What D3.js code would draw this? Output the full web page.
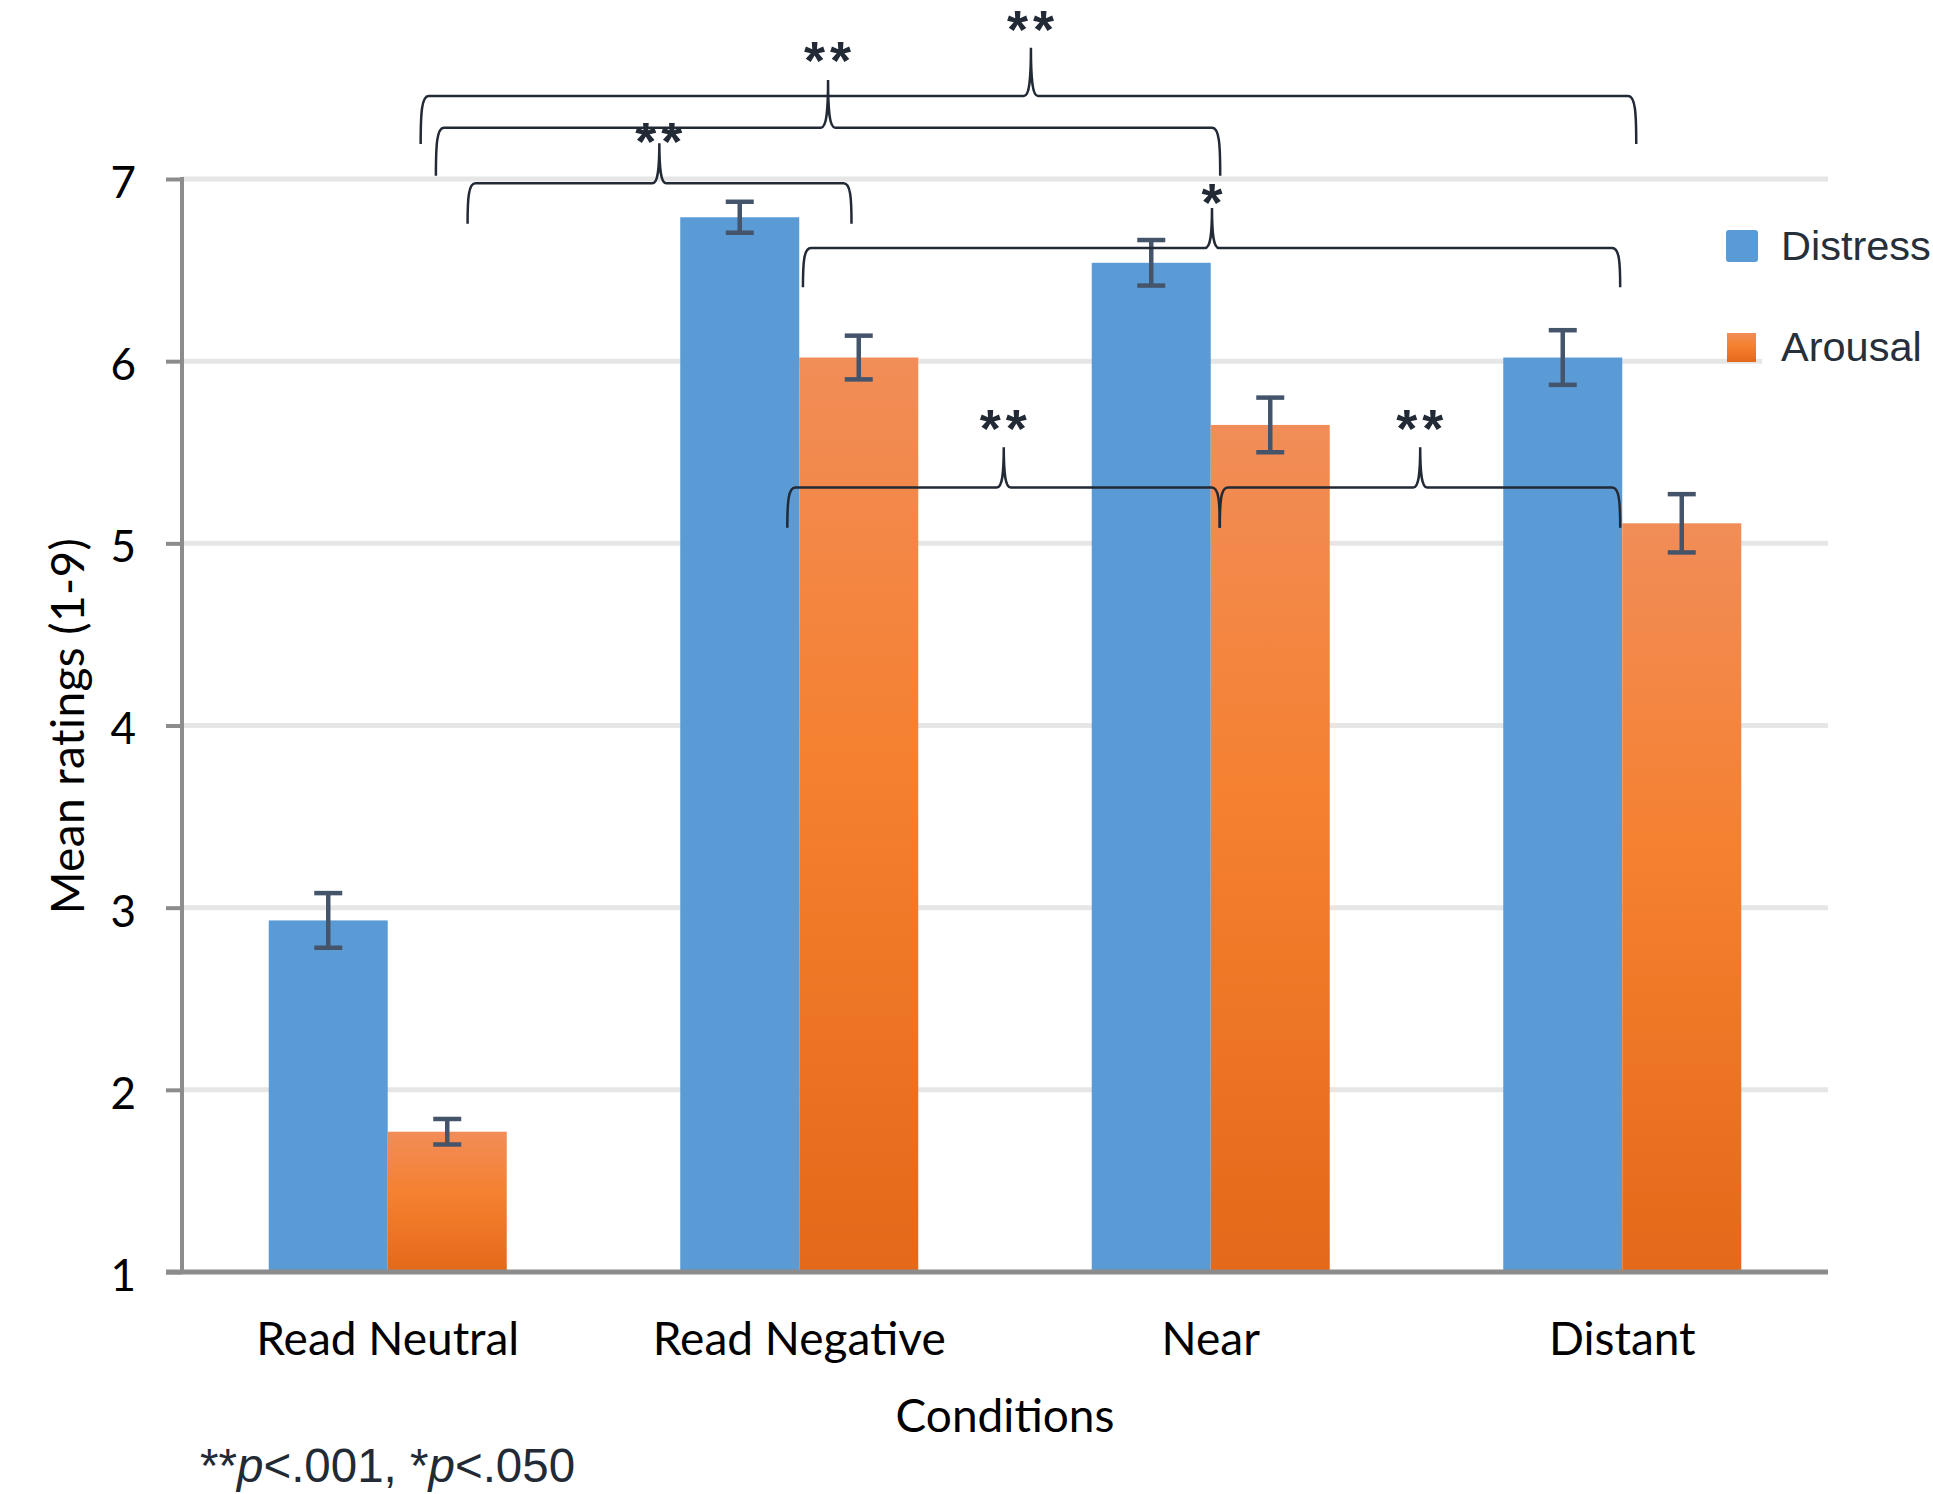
<!DOCTYPE html>
<html>
<head>
<meta charset="utf-8">
<script src="https://cdnjs.cloudflare.com/ajax/libs/d3/7.8.5/d3.min.js"></script>
<style>
  html, body { margin: 0; padding: 0; background: #ffffff; }
  svg { display: block; }
</style>
</head>
<body>
<div id="vis"></div>
<script>
// chart values
const CATEGORIES = ["Read Neutral", "Read Negative", "Near", "Distant"];
const SERIES = ["Distress", "Arousal"];
const DISTRESS_MEANS = [2.93, 6.79, 6.54, 6.02];
const DISTRESS_ERR = [0.15, 0.085, 0.125, 0.15];
const AROUSAL_MEANS = [1.77, 6.02, 5.65, 5.11];
const AROUSAL_ERR = [0.07, 0.12, 0.15, 0.16];
const Y_TICKS = [1, 2, 3, 4, 5, 6, 7];

// significance braces, x in category index units, y in rating units
const BRACE_FROM = [0.08, 0.117, 0.194, 1.009, 0.971, 2.022];
const BRACE_TO = [3.034, 2.023, 1.127, 2.995, 2.022, 2.995];
const BRACE_PEAK = [1.563, 1.070, 0.660, 2.003, 1.497, 2.509];
const BRACE_LEVEL = [7.456, 7.282, 6.976, 6.621, 5.306, 5.306];
const BRACE_END = [7.192, 7.018, 6.755, 6.406, 5.086, 5.086];
const BRACE_TIP = [7.721, 7.543, 7.196, 6.841, 5.527, 5.527];
const BRACE_STARS = ["**", "**", "**", "*", "**", "**"];
const BRACE_STAR_LEVEL = [7.818, 7.648, 7.205, 6.868, 5.630, 5.630];

// frame
const FRAME_WIDTH = 1933;
const FRAME_HEIGHT = 1494;
const PLOT = {left: 182, right: 1828, top: 179, bottom: 1272};

const CALIBRI = "Lato, 'Open Sans', sans-serif";
const ARIAL = "'Liberation Sans', Arial, sans-serif";
const DARK = "#222a35";

const FRAME = d3.select("#vis")
  .append("svg")
    .attr("width", FRAME_WIDTH)
    .attr("height", FRAME_HEIGHT);

// orange bars use a vertical gradient
const grad = FRAME.append("defs").append("linearGradient")
    .attr("id", "orangeGrad")
    .attr("x1", 0).attr("y1", 0).attr("x2", 0).attr("y2", 1);
grad.append("stop").attr("offset", "0%").attr("stop-color", "#f18d58");
grad.append("stop").attr("offset", "45%").attr("stop-color", "#f5802f");
grad.append("stop").attr("offset", "100%").attr("stop-color", "#e4691a");

const COLORS = {Distress: "#5b9bd5", Arousal: "url(#orangeGrad)"};

// scales
const X_SCALE = d3.scaleBand()
  .domain(CATEGORIES)
  .range([PLOT.left, PLOT.right]);

const X_SUB = d3.scaleBand()
  .domain(SERIES)
  .range([0, X_SCALE.bandwidth()])
  .paddingInner(0)
  .paddingOuter(0.729);

const X_IDX = d3.scaleLinear()
  .domain([-0.5, CATEGORIES.length - 0.5])
  .range([PLOT.left, PLOT.right]);

const Y_SCALE = d3.scaleLinear()
  .domain([1, 7])
  .range([PLOT.bottom, PLOT.top]);

// gridlines
FRAME.append("g")
  .selectAll("line")
  .data(Y_TICKS.slice(1))
  .enter()
  .append("line")
    .attr("x1", PLOT.left)
    .attr("x2", PLOT.right)
    .attr("y1", (d) => Y_SCALE(d))
    .attr("y2", (d) => Y_SCALE(d))
    .attr("stroke", "#e6e6e6")
    .attr("stroke-width", 5);

// white legend box sits over the gridlines on the right
FRAME.append("rect")
  .attr("x", 1762).attr("y", 196)
  .attr("width", 200).attr("height", 220)
  .attr("fill", "#ffffff");

// bar table
const rows = CATEGORIES.map((c, i) => ({
  cat: c,
  values: [
    {series: "Distress", mean: DISTRESS_MEANS[i], err: DISTRESS_ERR[i]},
    {series: "Arousal", mean: AROUSAL_MEANS[i], err: AROUSAL_ERR[i]}
  ]
}));

const groups = FRAME.append("g")
  .selectAll("g")
  .data(rows)
  .enter()
  .append("g")
    .attr("transform", (d) => "translate(" + X_SCALE(d.cat) + ",0)");

groups.selectAll("rect")
  .data((d) => d.values)
  .enter()
  .append("rect")
    .attr("x", (d) => X_SUB(d.series))
    .attr("y", (d) => Y_SCALE(d.mean))
    .attr("width", X_SUB.bandwidth())
    .attr("height", (d) => Y_SCALE(1) - Y_SCALE(d.mean))
    .attr("fill", (d) => COLORS[d.series]);

// error bars
const CAP = 14;
const errs = groups.selectAll("g.err")
  .data((d) => d.values)
  .enter()
  .append("g")
    .attr("class", "err")
    .attr("stroke", "#44546a")
    .attr("stroke-width", 4.5);

errs.append("line")
  .attr("x1", (d) => X_SUB(d.series) + X_SUB.bandwidth() / 2)
  .attr("x2", (d) => X_SUB(d.series) + X_SUB.bandwidth() / 2)
  .attr("y1", (d) => Y_SCALE(d.mean + d.err))
  .attr("y2", (d) => Y_SCALE(d.mean - d.err));

errs.selectAll("line.cap")
  .data((d) => [d.mean + d.err, d.mean - d.err].map((v) => ({v: v, s: d.series})))
  .enter()
  .append("line")
    .attr("class", "cap")
    .attr("x1", (d) => X_SUB(d.s) + X_SUB.bandwidth() / 2 - CAP)
    .attr("x2", (d) => X_SUB(d.s) + X_SUB.bandwidth() / 2 + CAP)
    .attr("y1", (d) => Y_SCALE(d.v))
    .attr("y2", (d) => Y_SCALE(d.v));

// y axis
const yAxis = FRAME.append("g")
  .attr("transform", "translate(" + PLOT.left + ",0)")
  .call(d3.axisLeft(Y_SCALE).tickValues(Y_TICKS).tickSize(16).tickPadding(30).tickFormat(d3.format("d")));
yAxis.select(".domain").remove();
yAxis.selectAll(".tick line").attr("stroke", "#8c8c8c").attr("stroke-width", 4);
yAxis.selectAll(".tick text")
  .attr("font-family", CALIBRI)
  .attr("font-size", 44)
  .attr("fill", "#000")
  .attr("dy", "0.42em");
yAxis.append("line")
  .attr("x1", 0).attr("x2", 0)
  .attr("y1", PLOT.top - 2).attr("y2", PLOT.bottom)
  .attr("stroke", "#8c8c8c").attr("stroke-width", 4);

// x axis
const xAxis = FRAME.append("g")
  .attr("transform", "translate(0," + PLOT.bottom + ")")
  .call(d3.axisBottom(X_SCALE).tickSize(0).tickPadding(50));
xAxis.select(".domain").remove();
xAxis.selectAll(".tick text")
  .attr("font-family", CALIBRI)
  .attr("font-size", 46)
  .attr("fill", "#000");
xAxis.append("line")
  .attr("x1", PLOT.left - 16).attr("x2", PLOT.right)
  .attr("y1", 0).attr("y2", 0)
  .attr("stroke", "#8c8c8c").attr("stroke-width", 5);

// axis titles
FRAME.append("text")
  .attr("x", (PLOT.left + PLOT.right) / 2)
  .attr("y", 1432)
  .attr("text-anchor", "middle")
  .attr("font-family", CALIBRI)
  .attr("font-size", 46)
  .text("Conditions");

FRAME.append("text")
  .attr("transform", "translate(84,726) rotate(-90)")
  .attr("text-anchor", "middle")
  .attr("font-family", CALIBRI)
  .attr("font-size", 46)
  .attr("letter-spacing", 0.4)
  .text("Mean ratings (1-9)");

// braces
function bracePath(x0, x1, xp, yh, yb, yt) {
  const r = 8, c = 7;
  return "M" + x0 + "," + yb +
    " C" + x0 + "," + (yh + (yb - yh) * 0.35) + " " + (x0 + 1) + "," + yh + " " + (x0 + r) + "," + yh +
    " L" + (xp - c) + "," + yh +
    " C" + (xp - 1.5) + "," + yh + " " + xp + "," + (yh - (yh - yt) * 0.35) + " " + xp + "," + yt +
    " C" + xp + "," + (yh - (yh - yt) * 0.35) + " " + (xp + 1.5) + "," + yh + " " + (xp + c) + "," + yh +
    " L" + (x1 - r) + "," + yh +
    " C" + (x1 - 1) + "," + yh + " " + x1 + "," + (yh + (yb - yh) * 0.35) + " " + x1 + "," + yb;
}

const braces = BRACE_FROM.map((f, i) => ({
  from: f, to: BRACE_TO[i], peak: BRACE_PEAK[i],
  level: BRACE_LEVEL[i], end: BRACE_END[i], tip: BRACE_TIP[i],
  stars: BRACE_STARS[i], starLevel: BRACE_STAR_LEVEL[i]
}));

FRAME.append("g")
  .selectAll("path")
  .data(braces)
  .enter()
  .append("path")
    .attr("d", (d) => bracePath(X_IDX(d.from), X_IDX(d.to), X_IDX(d.peak),
                                Y_SCALE(d.level), Y_SCALE(d.end), Y_SCALE(d.tip)))
    .attr("fill", "none")
    .attr("stroke", DARK)
    .attr("stroke-width", 2.5);

// star labels, a little spacing between the asterisks
FRAME.append("g")
  .selectAll("text")
  .data(braces)
  .enter()
  .append("text")
    .attr("x", (d) => X_IDX(d.peak) + (d.stars.length > 1 ? 2 : 0))
    .attr("y", (d) => Y_SCALE(d.starLevel) + 18)
    .attr("text-anchor", "middle")
    .attr("font-family", ARIAL)
    .attr("font-weight", "bold")
    .attr("font-size", 54)
    .attr("letter-spacing", (d) => d.stars.length > 1 ? 5 : 0)
    .attr("fill", DARK)
    .text((d) => d.stars);

// legend
const legend = FRAME.append("g");
legend.append("rect")
  .attr("x", 1726).attr("y", 230).attr("width", 32).attr("height", 32).attr("rx", 3)
  .attr("fill", COLORS.Distress);
legend.append("rect")
  .attr("x", 1727).attr("y", 333).attr("width", 29).attr("height", 29)
  .attr("fill", COLORS.Arousal);
legend.selectAll("text")
  .data(SERIES)
  .enter()
  .append("text")
    .attr("x", 1781)
    .attr("y", (d, i) => 260 + i * 101)
    .attr("font-family", ARIAL)
    .attr("font-size", 41.5)
    .attr("fill", "#262f3a")
    .text((d) => d);

// footnote
const note = FRAME.append("text")
  .attr("x", 200).attr("y", 1482)
  .attr("font-family", ARIAL)
  .attr("font-size", 47.5)
  .attr("fill", DARK);
note.append("tspan").text("**");
note.append("tspan").attr("font-style", "italic").text("p");
note.append("tspan").text("<.001, *");
note.append("tspan").attr("font-style", "italic").text("p");
note.append("tspan").text("<.050");
</script>
</body>
</html>
